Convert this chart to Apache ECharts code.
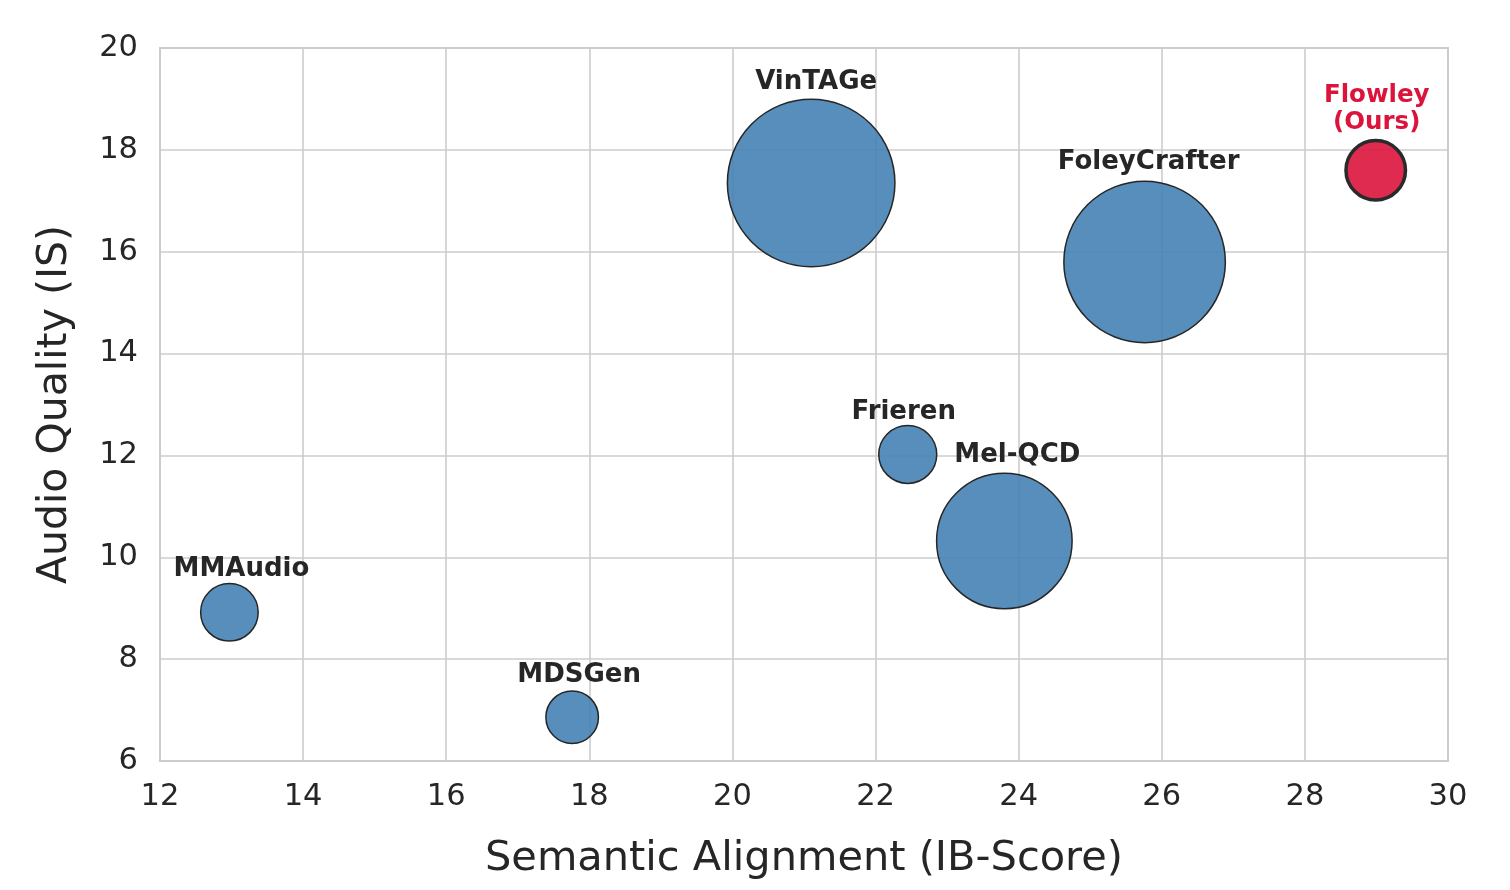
<!DOCTYPE html>
<html>
<head>
<meta charset="utf-8">
<script src="https://cdn.jsdelivr.net/npm/echarts@6/dist/echarts.min.js"></script>
<style>
html,body{margin:0;padding:0;background:#ffffff;}
#chart{width:1510px;height:890px;}
</style>
</head>
<body>
<div id="chart"></div>
<script>
// ---- data ----
const models      = ['MMAudio', 'MDSGen', 'VinTAGe', 'Frieren', 'Mel-QCD', 'FoleyCrafter', 'Flowley\n(Ours)'];
const ibScore     = [12.97, 17.76, 21.10, 22.45, 23.80, 25.76, 28.99];   // Semantic Alignment (IB-Score)
const isScore     = [8.92, 6.86, 17.35, 12.02, 10.32, 15.80, 17.60];     // Audio Quality (IS)
const bubbleValue = [33.1, 27.6, 280.6, 33.6, 183.6, 260.8, 35.4];       // relative bubble area
const isOurs      = [false, false, false, false, false, false, true];
const xTickMin = 12, xTickMax = 30, xTickStep = 2;
const yTickMin = 6,  yTickMax = 20, yTickStep = 2;

// ---- styles (not data) ----
const FONT = 'DejaVu Sans';
const TEXT = '#262626';
const GRIDC = '#cccccc';
const labelShift = {
  'MMAudio': [12, 5], 'MDSGen': [7, 4], 'VinTAGe': [5, 2], 'Frieren': [-4, 6],
  'Mel-QCD': [13, 1], 'FoleyCrafter': [4, 0], 'Flowley\n(Ours)': [1, 2]
};

const seriesData = models.map((name, i) => {
  const ours = isOurs[i];
  return {
    name: name,
    value: [ibScore[i], isScore[i], bubbleValue[i]],
    itemStyle: {
      color: ours ? 'rgba(220,20,60,0.9)' : 'rgba(70,130,180,0.9)',
      borderColor: ours ? '#2a2a2a' : '#262626',
      borderWidth: ours ? 3.5 : 1.5,
      opacity: 1
    },
    label: {
      color: ours ? '#DC143C' : TEXT,
      fontSize: ours ? 24.5 : 26,
      offset: labelShift[name] || [0, 0]
    }
  };
});

const chart = echarts.init(document.getElementById('chart'), null, {renderer: 'canvas'});
chart.setOption({
  backgroundColor: '#ffffff',
  animation: false,
  grid: {
    left: 160, right: 62, top: 48, bottom: 129,
    show: true, borderColor: GRIDC, borderWidth: 2, backgroundColor: 'transparent'
  },
  xAxis: {
    type: 'value', min: xTickMin, max: xTickMax, interval: xTickStep,
    name: 'Semantic Alignment (IB-Score)', nameLocation: 'middle', nameGap: 77,
    nameTextStyle: {fontFamily: FONT, fontSize: 41.5, color: TEXT},
    axisLine: {show: true, lineStyle: {color: GRIDC, width: 2}},
    axisTick: {show: false},
    axisLabel: {fontFamily: FONT, fontSize: 30.5, color: TEXT, margin: 21},
    splitLine: {show: true, lineStyle: {color: GRIDC, width: 1.6}}
  },
  yAxis: {
    type: 'value', min: yTickMin, max: yTickMax, interval: yTickStep,
    name: 'Audio Quality (IS)', nameLocation: 'middle', nameGap: 84,
    nameTextStyle: {fontFamily: FONT, fontSize: 41, color: TEXT},
    axisLine: {show: true, lineStyle: {color: GRIDC, width: 2}},
    axisTick: {show: false},
    axisLabel: {fontFamily: FONT, fontSize: 30.5, color: TEXT, margin: 22},
    splitLine: {show: true, lineStyle: {color: GRIDC, width: 1.6}}
  },
  series: [{
    type: 'scatter',
    data: seriesData,
    symbol: 'circle',
    symbolSize: v => 10 * Math.sqrt(v[2]),
    itemStyle: {opacity: 1},
    label: {
      show: true,
      position: 'top',
      distance: 5,
      formatter: p => p.name,
      fontFamily: FONT,
      fontWeight: 'bold',
      fontSize: 26,
      lineHeight: 27,
      align: 'center'
    },
    emphasis: {disabled: true}
  }]
});
</script>
</body>
</html>
